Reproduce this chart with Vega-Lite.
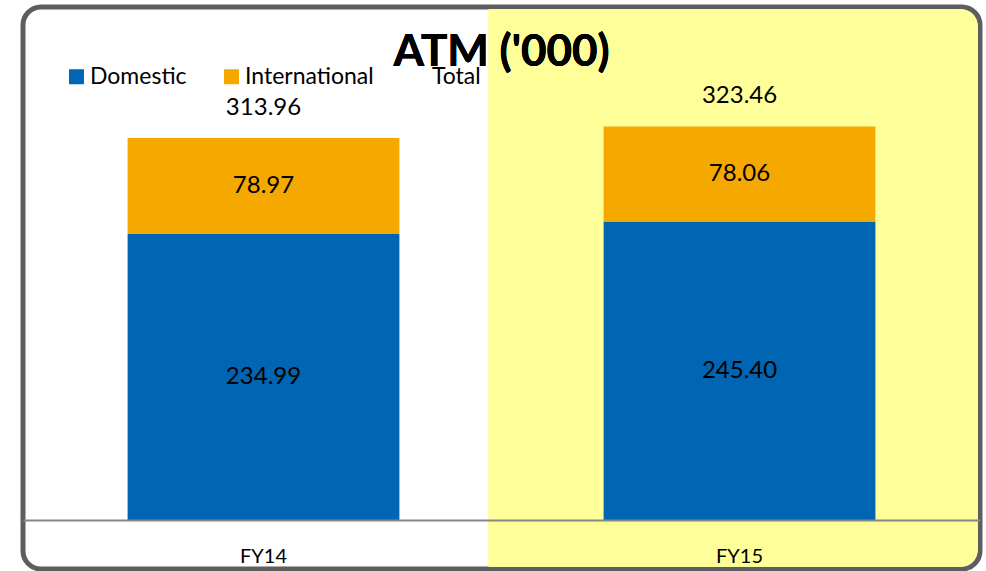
{
  "$schema": "https://vega.github.io/schema/vega-lite/v6.json",
  "width": 957,
  "height": 562,
  "autosize": {"type": "none"},
  "padding": {"left": 23, "top": 7, "right": 6, "bottom": 2},
  "background": "white",
  "config": {"view": {"stroke": "#5e5e5e", "strokeWidth": 5, "cornerRadius": 18, "fill": "white"}, "font": "Lato"},
  "data": {"values": [
    {"year": "FY14", "series": "Domestic", "value": 234.99},
    {"year": "FY14", "series": "International", "value": 78.97},
    {"year": "FY15", "series": "Domestic", "value": 245.40},
    {"year": "FY15", "series": "International", "value": 78.06}
  ]},
  "layer": [
    {
      "mark": {"type": "bar", "fill": "#FFFF99", "width": {"band": 1.027}, "xOffset": -6.4, "cornerRadiusTopRight": 17, "cornerRadiusBottomRight": 17},
      "encoding": {
        "x": {"datum": "FY15", "type": "nominal", "scale": {"paddingInner": 0, "paddingOuter": 0.00525}, "axis": {"title": null, "orient": "bottom", "offset": -49, "domainColor": "#868686", "domainWidth": 2, "ticks": false, "labelFontSize": 20, "labelColor": "black", "labelFont": "Lato", "labelPadding": 36, "labelBaseline": "middle", "labelAngle": 0, "zindex": 1, "grid": false}},
        "y": {"datum": 419.6, "type": "quantitative", "scale": {"domain": [-40.27, 421.6], "nice": false, "zero": false}, "axis": null},
        "y2": {"datum": -38.2}
      }
    },
    {
      "mark": {"type": "bar", "width": {"band": 0.571}},
      "encoding": {
        "x": {"field": "year", "type": "nominal"},
        "y": {"field": "value", "type": "quantitative", "stack": "zero", "scale": {"domain": [-40.27, 421.6], "nice": false, "zero": false}, "axis": null},
        "order": {"field": "series", "sort": "ascending"},
        "color": {"field": "series", "type": "nominal", "scale": {"domain": ["Domestic", "International", "Total"], "range": ["#0065B3", "#F5A800", "#ffffff"]},
          "legend": {"title": null, "orient": "none", "legendX": 42, "legendY": 58, "direction": "horizontal", "symbolType": "square", "symbolSize": 225, "symbolStrokeWidth": 0, "labelFontSize": 23, "labelFont": "Lato", "labelColor": "black", "columnPadding": 33, "labelOffset": 2}}
      }
    },
    {
      "mark": {"type": "text", "fontSize": 24, "font": "Lato", "color": "black"},
      "encoding": {
        "x": {"field": "year", "type": "nominal"},
        "y": {"field": "value", "type": "quantitative", "stack": "zero", "bandPosition": 0.5, "scale": {"domain": [-40.27, 421.6], "nice": false, "zero": false}, "axis": null},
        "order": {"field": "series", "sort": "ascending"},
        "detail": {"field": "series", "type": "nominal"},
        "text": {"field": "value", "type": "quantitative", "format": ".2f"}
      }
    },
    {
      "transform": [{"aggregate": [{"op": "sum", "field": "value", "as": "total"}], "groupby": ["year"]}],
      "mark": {"type": "text", "fontSize": 24, "font": "Lato", "color": "black", "dy": -30},
      "encoding": {
        "x": {"field": "year", "type": "nominal"},
        "y": {"field": "total", "type": "quantitative", "scale": {"domain": [-40.27, 421.6], "nice": false, "zero": false}, "axis": null},
        "text": {"field": "total", "type": "quantitative", "format": ".2f"}
      }
    },
    {
      "mark": {"type": "text", "text": "ATM ('000)", "fontSize": 44, "fontWeight": "bold", "font": "Lato", "color": "black", "align": "center", "baseline": "alphabetic"},
      "encoding": {
        "x": {"datum": "FY15", "type": "nominal", "bandPosition": 0},
        "y": {"datum": 373.1, "type": "quantitative", "scale": {"domain": [-40.27, 421.6], "nice": false, "zero": false}, "axis": null}
      }
    }
  ]
}
